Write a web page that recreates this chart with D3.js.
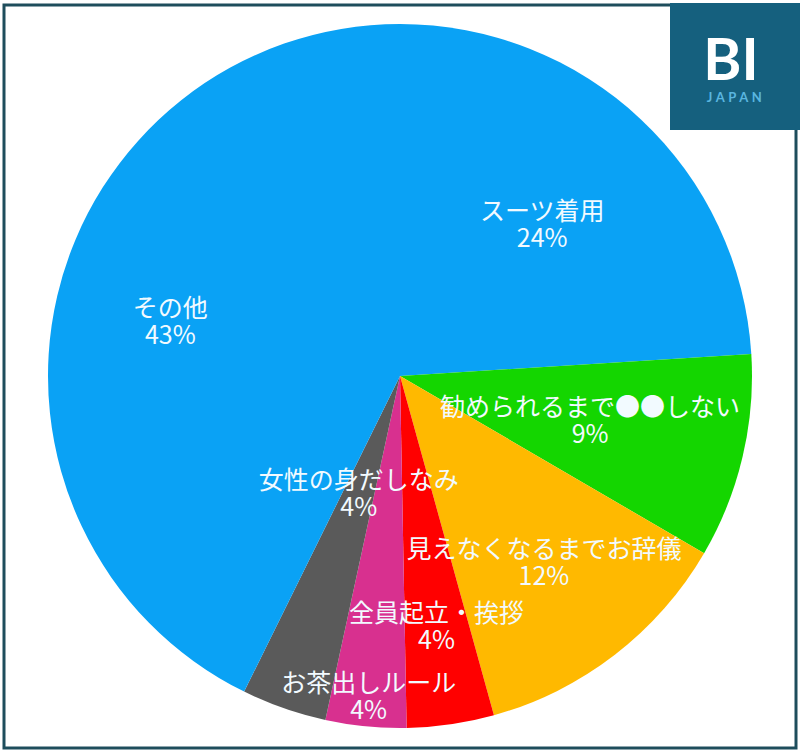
<!DOCTYPE html>
<html><head><meta charset="utf-8">
<script src="https://cdn.jsdelivr.net/npm/d3@7"></script>
<style>html,body{margin:0;padding:0;background:#fff;}svg{display:block;}</style>
</head><body>
<svg id="chart" width="800" height="754"></svg>
<script>
const categories = ["スーツ着用","勧められるまで●●しない","見えなくなるまでお辞儀","全員起立・挨拶","お茶出しルール","女性の身だしなみ","その他"];
const values = [24.0, 9.4, 12.3, 4.0, 3.7, 3.9, 42.7];
const percentLabels = ["24%","9%","12%","4%","4%","4%","43%"];
const colors = ["#0aa2f5","#14d600","#ffb900","#ff0000","#d8308f","#5a5a5a","#0aa2f5"];
const labelRadius = [0.59, 0.555, 0.67, 0.72, 0.915, 0.355, 0.67];

const W = 800, H = 754;
const cx = 400, cy = 376, R = 352;
const svg = d3.select("#chart");

const g = svg.append("g").attr("transform", `translate(${cx},${cy})`);
const pie = d3.pie().sort(null).value(d => d.v);
const data = categories.map((c,i)=>({c, v:values[i], p:percentLabels[i], col:colors[i], lr:labelRadius[i]}));
const arcs = pie(data);
const arc = d3.arc().innerRadius(0).outerRadius(R);

g.selectAll("path").data(arcs).join("path")
  .attr("d", arc).attr("fill", d => d.data.col);

const lab = g.selectAll("text.lab").data(arcs).join("text").attr("class","lab")
  .attr("transform", d => {
    const a = d3.arc().innerRadius(R*d.data.lr).outerRadius(R*d.data.lr);
    const [x,y] = a.centroid(d);
    return `translate(${x},${y})`;
  })
  .attr("text-anchor","middle")
  .attr("font-family","'Noto Sans CJK JP', 'Noto Sans', sans-serif")
  .attr("font-size", 25).attr("fill","#f2faff");
lab.append("tspan").attr("x",0).attr("y",-5).text(d => d.data.c);
lab.append("tspan").attr("x",0).attr("y",22).text(d => d.data.p);

// frame
svg.append("rect").attr("x",4).attr("y",5).attr("width",792).attr("height",743)
  .attr("fill","none").attr("stroke","#1e4d5c").attr("stroke-width",3);

// logo
const logo = svg.append("g");
logo.append("rect").attr("x",670).attr("y",3).attr("width",130).attr("height",127).attr("fill","#15607e");
logo.append("text").attr("x",731).attr("y",80).attr("text-anchor","middle")
  .attr("font-family","Lato, 'Open Sans', sans-serif").attr("font-weight",700)
  .attr("font-size",58).attr("fill","#ffffff").text("BI");
logo.append("text").attr("x",736).attr("y",102).attr("text-anchor","middle")
  .attr("font-family","Lato, 'Open Sans', sans-serif").attr("font-weight",700)
  .attr("font-size",13).attr("letter-spacing",3.5)
  .attr("fill","#5ab6e0").text("JAPAN");
</script>
</body></html>
